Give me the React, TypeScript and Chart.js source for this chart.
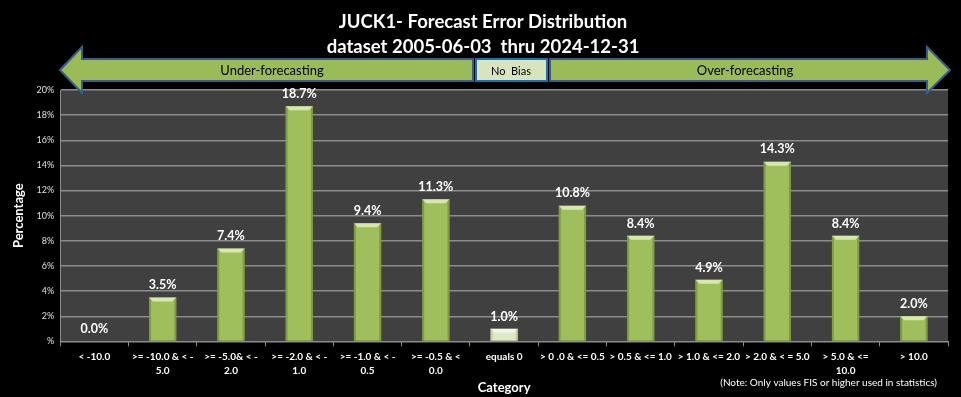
import React, { useEffect, useRef } from "react";
import { Chart, registerables } from "chart.js";

Chart.register(...registerables);

const titleLines = ["JUCK1- Forecast Error Distribution", "dataset 2005-06-03  thru 2024-12-31"];
const categories: (string | string[])[] = [
  "< -10.0",
  [">= -10.0 & < -", "5.0"],
  [">= -5.0& < -", "2.0"],
  [">= -2.0 & < -", "1.0"],
  [">= -1.0 & < -", "0.5"],
  [">= -0.5 & <", "0.0"],
  "equals 0",
  "> 0 .0 & <= 0.5",
  "> 0.5 & <= 1.0",
  "> 1.0 & <= 2.0",
  "> 2.0 & < = 5.0",
  ["> 5.0 & <=", "10.0"],
  "> 10.0",
];
const percentages = [0.0, 3.5, 7.4, 18.7, 9.4, 11.3, 1.0, 10.8, 8.4, 4.9, 14.3, 8.4, 2.0];
const noBiasIndex = 6;
const bandLabels = ["Under-forecasting", "No  Bias", "Over-forecasting"];
const noteText = "(Note: Only values FIS or higher used in statistics)";

const FONT = "Lato, 'Open Sans', sans-serif";

const decorPlugin = {
  id: "decor",
  beforeDraw(chart: any) {
    const { ctx, chartArea } = chart;
    ctx.save();
    ctx.fillStyle = "#000";
    ctx.fillRect(0, 0, chart.width, chart.height);
    ctx.fillStyle = "#404040";
    ctx.fillRect(chartArea.left, chartArea.top, chartArea.right - chartArea.left, chartArea.bottom - chartArea.top);
    ctx.restore();
  },
  afterDraw(chart: any) {
    const { ctx } = chart;
    ctx.save();
    ctx.fillStyle = "#fff";
    ctx.textAlign = "center";
    ctx.textBaseline = "middle";
    ctx.font = `bold 18.5px ${FONT}`;
    ctx.fillText(titleLines[0], 483, 22);
    ctx.fillText(titleLines[1], 483, 47);

    const midY = 70;
    const bodyTop = 59, bodyBot = 81, headTop = 47, headBot = 93;
    ctx.lineWidth = 2;
    ctx.strokeStyle = "#385d8a";
    ctx.fillStyle = "#9bbb59";
    ctx.beginPath();
    ctx.moveTo(60, midY);
    ctx.lineTo(82, headTop);
    ctx.lineTo(82, bodyTop);
    ctx.lineTo(473, bodyTop);
    ctx.lineTo(473, bodyBot);
    ctx.lineTo(82, bodyBot);
    ctx.lineTo(82, headBot);
    ctx.closePath();
    ctx.fill();
    ctx.stroke();
    ctx.beginPath();
    ctx.moveTo(950, midY);
    ctx.lineTo(927, headTop);
    ctx.lineTo(927, bodyTop);
    ctx.lineTo(550, bodyTop);
    ctx.lineTo(550, bodyBot);
    ctx.lineTo(927, bodyBot);
    ctx.lineTo(927, headBot);
    ctx.closePath();
    ctx.fill();
    ctx.stroke();
    ctx.fillStyle = "#d7e4bd";
    ctx.strokeStyle = "#1f6fb5";
    ctx.lineWidth = 2;
    ctx.fillRect(476, 59, 71, 22);
    ctx.strokeRect(476, 59, 71, 22);

    ctx.fillStyle = "#000";
    ctx.font = `13px ${FONT}`;
    ctx.fillText(bandLabels[0], 272, 71);
    ctx.font = `11px ${FONT}`;
    ctx.fillText(bandLabels[1], 511, 71);
    ctx.font = `13px ${FONT}`;
    ctx.fillText(bandLabels[2], 745, 71);

    ctx.fillStyle = "#fff";
    ctx.font = `10px ${FONT}`;
    ctx.textAlign = "right";
    ctx.fillText(noteText, 937, 383);
    ctx.restore();
  },
  afterDatasetsDraw(chart: any) {
    const { ctx } = chart;
    const meta = chart.getDatasetMeta(0);
    ctx.save();
    meta.data.forEach((bar: any, i: number) => {
      const w = bar.width;
      const x0 = bar.x - w / 2;
      const h = bar.base - bar.y;
      if (h > 3) {
        ctx.fillStyle = i === noBiasIndex ? "rgba(160,180,110,0.5)" : "rgba(90,115,40,0.45)";
        ctx.fillRect(x0, bar.y, 2, h);
        ctx.fillRect(x0 + w - 2, bar.y, 2, h);
        ctx.fillStyle = i === noBiasIndex ? "rgba(255,255,255,0.6)" : "rgba(235,245,200,0.75)";
        ctx.beginPath();
        ctx.moveTo(x0, bar.y);
        ctx.lineTo(x0 + w, bar.y);
        ctx.lineTo(x0 + w - 4, bar.y + 4);
        ctx.lineTo(x0 + 4, bar.y + 4);
        ctx.closePath();
        ctx.fill();
      }
      ctx.fillStyle = "#fff";
      ctx.font = `bold 12.5px ${FONT}`;
      ctx.textAlign = "center";
      ctx.textBaseline = "bottom";
      ctx.fillText(percentages[i].toFixed(1) + "%", bar.x, bar.y - 6);
    });
    ctx.restore();
  },
};

export default function App() {
  const ref = useRef<HTMLCanvasElement>(null);
  useEffect(() => {
    document.body.style.margin = "0";
    document.body.style.background = "#000";
    const ctx = ref.current!.getContext("2d")!;
    const chart = new Chart(ctx, {
      type: "bar",
      data: {
        labels: categories,
        datasets: [
          {
            data: percentages,
            backgroundColor: percentages.map((_, i) => (i === noBiasIndex ? "#dde8c4" : "#9fbf5c")),
            borderWidth: 0,
            barPercentage: 0.4,
            categoryPercentage: 1,
          },
        ],
      },
      options: {
        animation: false,
        responsive: false,
        layout: { padding: { top: 90, left: 11, right: 13, bottom: 1 } },
        plugins: { legend: { display: false }, tooltip: { enabled: false }, title: { display: false } },
        scales: {
          x: {
            grid: { drawOnChartArea: false, drawTicks: true, tickLength: 5, color: "#8c8c8c", offset: true },
            border: { color: "#8c8c8c", width: 1 },
            ticks: {
              color: "#fff",
              font: { family: FONT, size: 10, weight: "bold", lineHeight: 1.4 },
              maxRotation: 0,
              autoSkip: false,
              padding: 3,
            },
            title: {
              display: true,
              text: "Category",
              color: "#fff",
              font: { family: FONT, size: 13, weight: "bold" },
              padding: { top: 0, bottom: 0 },
            },
          },
          y: {
            min: 0,
            max: 20,
            ticks: {
              stepSize: 2,
              color: "#e0e0e0",
              font: { family: FONT, size: 9 },
              padding: 6,
              callback: (v: any) => (v === 0 ? "%" : v + "%"),
            },
            grid: { color: "#8c8c8c", lineWidth: 1.5, drawTicks: false },
            border: { color: "#8c8c8c", width: 1 },
            title: {
              display: true,
              text: "Percentage",
              color: "#fff",
              font: { family: FONT, size: 13, weight: "bold" },
              padding: { top: 0, bottom: 4 },
            },
          },
        },
      },
      plugins: [decorPlugin],
    });
    return () => chart.destroy();
  }, []);
  return (
    <div style={{ width: 961, height: 397, background: "#000" }}>
      <canvas ref={ref} width={961} height={397} style={{ display: "block" }} />
    </div>
  );
}
